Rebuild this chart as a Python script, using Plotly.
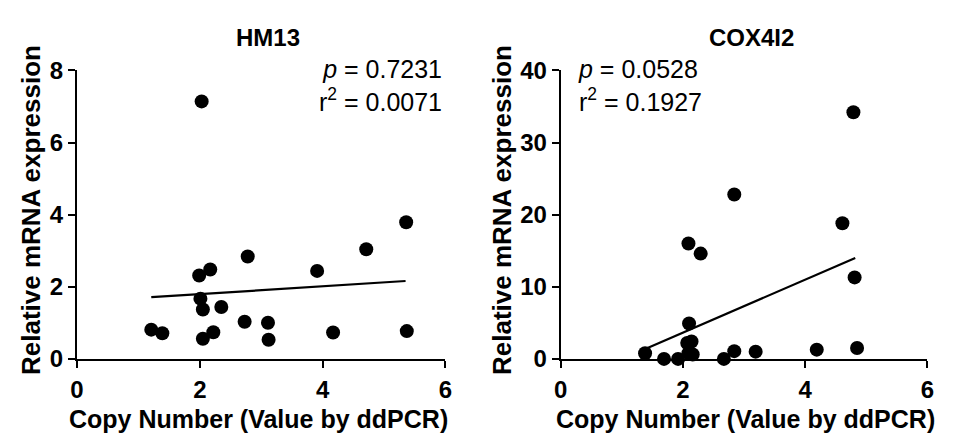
import plotly.graph_objects as go

# ---- data ----
hm13_copy = [2.03, 5.36, 4.71, 2.78, 3.91, 2.17, 1.99, 2.01, 2.05, 2.35, 2.73, 3.11,
             1.21, 1.39, 2.05, 2.22, 3.12, 4.17, 5.37]
hm13_expr = [7.14, 3.79, 3.04, 2.84, 2.44, 2.48, 2.31, 1.67, 1.37, 1.44, 1.03, 1.00,
             0.81, 0.71, 0.56, 0.74, 0.53, 0.73, 0.77]
hm13_fit_x = [1.21, 5.35]
hm13_fit_y = [1.71, 2.16]

cox_copy = [4.79, 2.84, 4.61, 2.09, 2.29, 4.81, 2.10, 2.07, 2.14, 1.38, 1.69, 1.92,
            2.09, 2.16, 2.67, 2.84, 3.05, 3.19, 4.19, 4.85]
cox_expr = [34.2, 22.8, 18.8, 16.0, 14.6, 11.3, 4.9, 2.2, 2.4, 0.77, 0.0, 0.0,
            0.8, 0.6, 0.0, 1.07, -0.1, 1.0, 1.28, 1.5]
cox_fit_x = [1.42, 4.82]
cox_fit_y = [1.5, 14.0]

titles = ["HM13", "COX4I2"]
stats = [("0.7231", "0.0071"), ("0.0528", "0.1927")]
x_ticks = [0, 2, 4, 6]
y_ticks_left = [0, 2, 4, 6, 8]
y_ticks_right = [0, 10, 20, 30, 40]
x_title = "Copy Number (Value by ddPCR)"
y_title = "Relative mRNA expression"

W, H = 956, 448
FONT = "Liberation Sans, Arial, sans-serif"

fig = go.Figure()

fig.add_trace(go.Scatter(x=hm13_copy, y=hm13_expr, mode="markers",
                         marker=dict(size=14, color="black"),
                         cliponaxis=False, xaxis="x", yaxis="y", showlegend=False))
fig.add_trace(go.Scatter(x=hm13_fit_x, y=hm13_fit_y, mode="lines",
                         line=dict(color="black", width=2.2),
                         xaxis="x", yaxis="y", showlegend=False))
fig.add_trace(go.Scatter(x=cox_copy, y=cox_expr, mode="markers",
                         marker=dict(size=14, color="black"),
                         cliponaxis=False, xaxis="x2", yaxis="y2", showlegend=False))
fig.add_trace(go.Scatter(x=cox_fit_x, y=cox_fit_y, mode="lines",
                         line=dict(color="black", width=2.2),
                         xaxis="x2", yaxis="y2", showlegend=False))

def px_x(p):
    return p / W

def px_y(p):
    return 1 - p / H

def axis(domain, rng, ticks, anchor, standoff):
    return dict(domain=domain, range=rng, anchor=anchor,
                tickmode="array", tickvals=ticks,
                ticktext=[f"<b>{t}</b>" for t in ticks],
                showline=True, linecolor="black", linewidth=2, ticks="outside",
                ticklen=7, tickwidth=2, tickcolor="black", showgrid=False,
                zeroline=False, ticklabelstandoff=standoff,
                tickfont=dict(family=FONT, size=24, color="black"))

ydom = [px_y(367), px_y(60)]
fig.update_layout(
    width=W, height=H,
    margin=dict(l=0, r=0, t=0, b=0),
    paper_bgcolor="white", plot_bgcolor="white",
    xaxis=axis([px_x(71), px_x(445)], [0, 6], x_ticks, "y", 1),
    yaxis=axis(ydom, [0, 8], y_ticks_left, "x", 0),
    xaxis2=axis([px_x(562), px_x(934)], [0, 6], x_ticks, "y2", 1),
    yaxis2=axis(ydom, [0, 40], y_ticks_right, "x2", 0),
)

ann = []
# panel titles
for t, cx in zip(titles, [264.5, 755.5]):
    ann.append(dict(text=f"<b>{t}</b>", x=px_x(cx), y=px_y(25), xref="paper", yref="paper",
                    xanchor="center", yanchor="middle", showarrow=False,
                    font=dict(family=FONT, size=24, color="black")))
# axis titles
for cx in [255.5, 749]:
    ann.append(dict(text=f"<b>{x_title}</b>", x=px_x(cx), y=px_y(431), xref="paper", yref="paper",
                    xanchor="center", yanchor="middle", showarrow=False,
                    font=dict(family=FONT, size=25, color="black")))
for cx in [25, 503]:
    ann.append(dict(text=f"<b>{y_title}</b>", x=px_x(cx), y=px_y(209), xref="paper", yref="paper",
                    xanchor="center", yanchor="middle", showarrow=False, textangle=-90,
                    font=dict(family=FONT, size=26, color="black")))
# stats
stat_pos = [(443, "right"), (577, "left")]
for (pv, r2), (sx, anc) in zip(stats, stat_pos):
    ann.append(dict(text=f"<i>p</i> = {pv}<br>r<sup>2</sup> = {r2}",
                    x=px_x(sx), y=px_y(76), xref="paper", yref="paper",
                    xanchor=anc, yanchor="middle", align=anc, showarrow=False,
                    font=dict(family=FONT, size=25, color="black")))
fig.update_layout(annotations=ann)

fig.write_html("out.html")
